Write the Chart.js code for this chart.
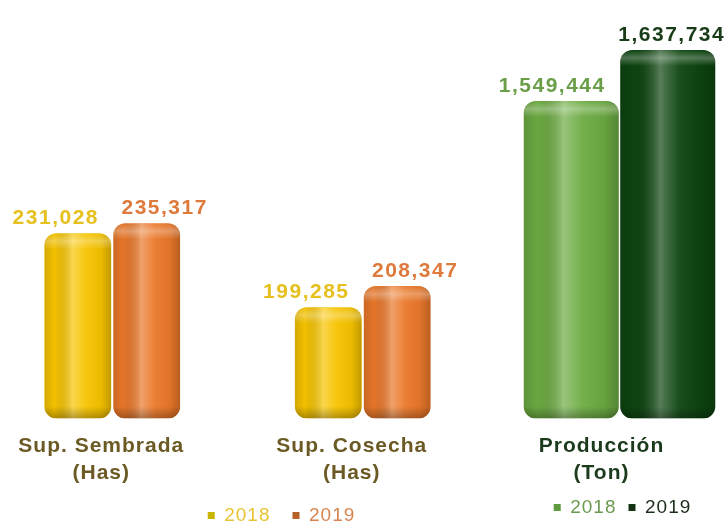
<!DOCTYPE html>
<html lang="es">
<head>
  <meta charset="UTF-8">
  <title>Superficie y Producción</title>
  <script src="https://cdn.jsdelivr.net/npm/chart.js"></script>
  <style>
    body {
      margin: 0;
      width: 726px;
      height: 522px;
      background: #fff;
      position: relative;
      overflow: hidden;
      font-family: "Liberation Sans", Arial, sans-serif;
    }
    #supBox {
      position: absolute;
      left: -13px;
      top: 0;
      width: 501px;
      height: 522px;
    }
    #prodBox {
      position: absolute;
      left: 480px;
      top: 0;
      width: 246px;
      height: 522px;
    }
  </style>
</head>
<body>
  <div id="supBox"><canvas id="supChart"></canvas></div>
  <div id="prodBox"><canvas id="prodChart"></canvas></div>
  <script>
    // datos
    const anios = ["2018", "2019"];
    const categoriasSup = [["Sup. Sembrada", "(Has)"], ["Sup. Cosecha", "(Has)"]];
    const sup2018 = [231028, 199285];
    const sup2019 = [235317, 208347];
    const categoriasProd = [["Producción", "(Ton)"]];
    const prod2018 = [1549444];
    const prod2019 = [1637734];

    // rango de los ejes (ocultos)
    const supMin = 151600, supMax = 322400;
    const prodMin = 1000900, prodMax = 1689440;

    const fmt = v => v.toLocaleString("en-US");

    // sombreado tipo cilindro sobre cada barra
    const cilindro = {
      id: "cilindro",
      afterDatasetsDraw(chart) {
        const ctx = chart.ctx;
        chart.data.datasets.forEach((ds, i) => {
          chart.getDatasetMeta(i).data.forEach(el => {
            const left = el.x - el.width / 2;
            const top = el.y;
            const bottom = Math.min(el.base, chart.chartArea.bottom);
            const h = bottom - top;
            const r = Math.min(12, el.width / 5);
            ctx.save();
            ctx.beginPath();
            ctx.roundRect(left, top, el.width, h, r);
            ctx.clip();
            const g = ctx.createLinearGradient(left, 0, left + el.width, 0);
            g.addColorStop(0, "rgba(0,0,0,0.14)");
            g.addColorStop(0.15, "rgba(0,0,0,0.02)");
            g.addColorStop(0.42, "rgba(255,255,255,0.3)");
            g.addColorStop(0.62, "rgba(255,255,255,0.05)");
            g.addColorStop(0.85, "rgba(0,0,0,0.05)");
            g.addColorStop(1, "rgba(0,0,0,0.22)");
            ctx.fillStyle = g;
            ctx.fillRect(left, top, el.width, h);
            const gt = ctx.createLinearGradient(0, top, 0, top + 16);
            gt.addColorStop(0, "rgba(255,255,255,0.0)");
            gt.addColorStop(0.5, "rgba(255,255,255,0.28)");
            gt.addColorStop(1, "rgba(255,255,255,0.0)");
            ctx.fillStyle = gt;
            ctx.fillRect(left, top, el.width, 16);
            const gb = ctx.createLinearGradient(0, bottom - 12, 0, bottom);
            gb.addColorStop(0, "rgba(0,0,0,0)");
            gb.addColorStop(1, "rgba(0,0,0,0.28)");
            ctx.fillStyle = gb;
            ctx.fillRect(left, bottom - 12, el.width, 12);
            ctx.restore();
          });
        });
      }
    };

    // etiquetas de valor encima de las barras
    const valores = {
      id: "valores",
      afterDatasetsDraw(chart) {
        const ctx = chart.ctx;
        ctx.save();
        ctx.font = "bold 21px 'Liberation Sans', Arial, sans-serif";
        ctx.letterSpacing = "1.5px";
        ctx.textAlign = "center";
        ctx.textBaseline = "alphabetic";
        chart.data.datasets.forEach((ds, i) => {
          chart.getDatasetMeta(i).data.forEach((el, j) => {
            ctx.fillStyle = ds.labelColor;
            ctx.fillText(fmt(ds.data[j]), el.x + ds.labelDx, el.y - 9);
          });
        });
        ctx.restore();
      }
    };

    // espaciado de letras y desplazamiento de la leyenda
    const ajustes = {
      id: "ajustes",
      beforeDraw(chart) {
        chart.ctx.letterSpacing = "1px";
      },
      afterLayout(chart, args, opts) {
        const lg = chart.legend;
        if (!lg) return;
        lg.left += opts.legendDx || 0;
        lg.right += opts.legendDx || 0;
        lg.top += opts.legendDy || 0;
        lg.bottom += opts.legendDy || 0;
      }
    };

    function leyenda(colores, textos) {
      return chart => chart.data.datasets.map((ds, i) => ({
        text: ds.label,
        fillStyle: colores[i],
        strokeStyle: colores[i],
        lineWidth: 0,
        fontColor: textos[i],
        datasetIndex: i
      }));
    }

    function opciones(cfg) {
      return {
        responsive: true,
        maintainAspectRatio: false,
        animation: false,
        layout: { padding: { top: 20, left: cfg.padLeft, right: 0, bottom: cfg.padBottom } },
        scales: {
          x: {
            grid: { display: false, drawTicks: false },
            border: { display: false },
            ticks: {
              color: cfg.labelColor,
              padding: 15,
              labelOffset: cfg.labelOffset,
              font: { family: "'Liberation Sans', Arial, sans-serif", size: 21, weight: "bold", lineHeight: 1.25 }
            }
          },
          y: { display: false, min: cfg.min, max: cfg.max }
        },
        plugins: {
          legend: {
            position: "bottom",
            labels: {
              boxWidth: 7,
              boxHeight: 7,
              padding: cfg.legendPad,
              font: { family: "'Liberation Sans', Arial, sans-serif", size: 19 },
              generateLabels: leyenda(cfg.legendColors, cfg.legendText)
            }
          },
          tooltip: { enabled: false },
          ajustes: { legendDx: cfg.legendDx, legendDy: cfg.legendDy }
        }
      };
    }

    new Chart(document.getElementById("supChart"), {
      type: "bar",
      data: {
        labels: categoriasSup,
        datasets: [
          {
            label: anios[0], data: sup2018, base: supMin, backgroundColor: "#f7c400",
            borderRadius: 12, borderSkipped: false,
            barPercentage: 0.97, categoryPercentage: 0.55,
            labelColor: "#e6c01e", labelDx: -22
          },
          {
            label: anios[1], data: sup2019, base: supMin, backgroundColor: "#ea782a",
            borderRadius: 12, borderSkipped: false,
            barPercentage: 0.97, categoryPercentage: 0.55,
            labelColor: "#dd7a3c", labelDx: 18
          }
        ]
      },
      options: opciones({
        min: supMin, max: supMax, padLeft: 0, padBottom: -30, labelOffset: -11,
        labelColor: "#6b5a24", legendPad: 22, legendDx: 40, legendDy: -17,
        legendColors: ["#c9b400", "#b5622a"], legendText: ["#e9c431", "#d8834e"]
      }),
      plugins: [cilindro, valores, ajustes]
    });

    new Chart(document.getElementById("prodChart"), {
      type: "bar",
      data: {
        labels: categoriasProd,
        datasets: [
          {
            label: anios[0], data: prod2018, base: prodMin, backgroundColor: "#6cab42",
            borderRadius: 12, borderSkipped: false,
            barPercentage: 0.985, categoryPercentage: 0.906,
            labelColor: "#6a9e48", labelDx: -19
          },
          {
            label: anios[1], data: prod2019, base: prodMin, backgroundColor: "#0d4510",
            borderRadius: 12, borderSkipped: false,
            barPercentage: 0.985, categoryPercentage: 0.906,
            labelColor: "#183c18", labelDx: 4
          }
        ]
      },
      options: opciones({
        min: prodMin, max: prodMax, padLeft: 33, padBottom: -20, labelOffset: -18,
        labelColor: "#1c3a1c", legendPad: 12, legendDx: -1, legendDy: -15,
        legendColors: ["#5e9a3e", "#123212"], legendText: ["#6c9a50", "#1b2e1b"]
      }),
      plugins: [cilindro, valores, ajustes]
    });
  </script>
</body>
</html>
